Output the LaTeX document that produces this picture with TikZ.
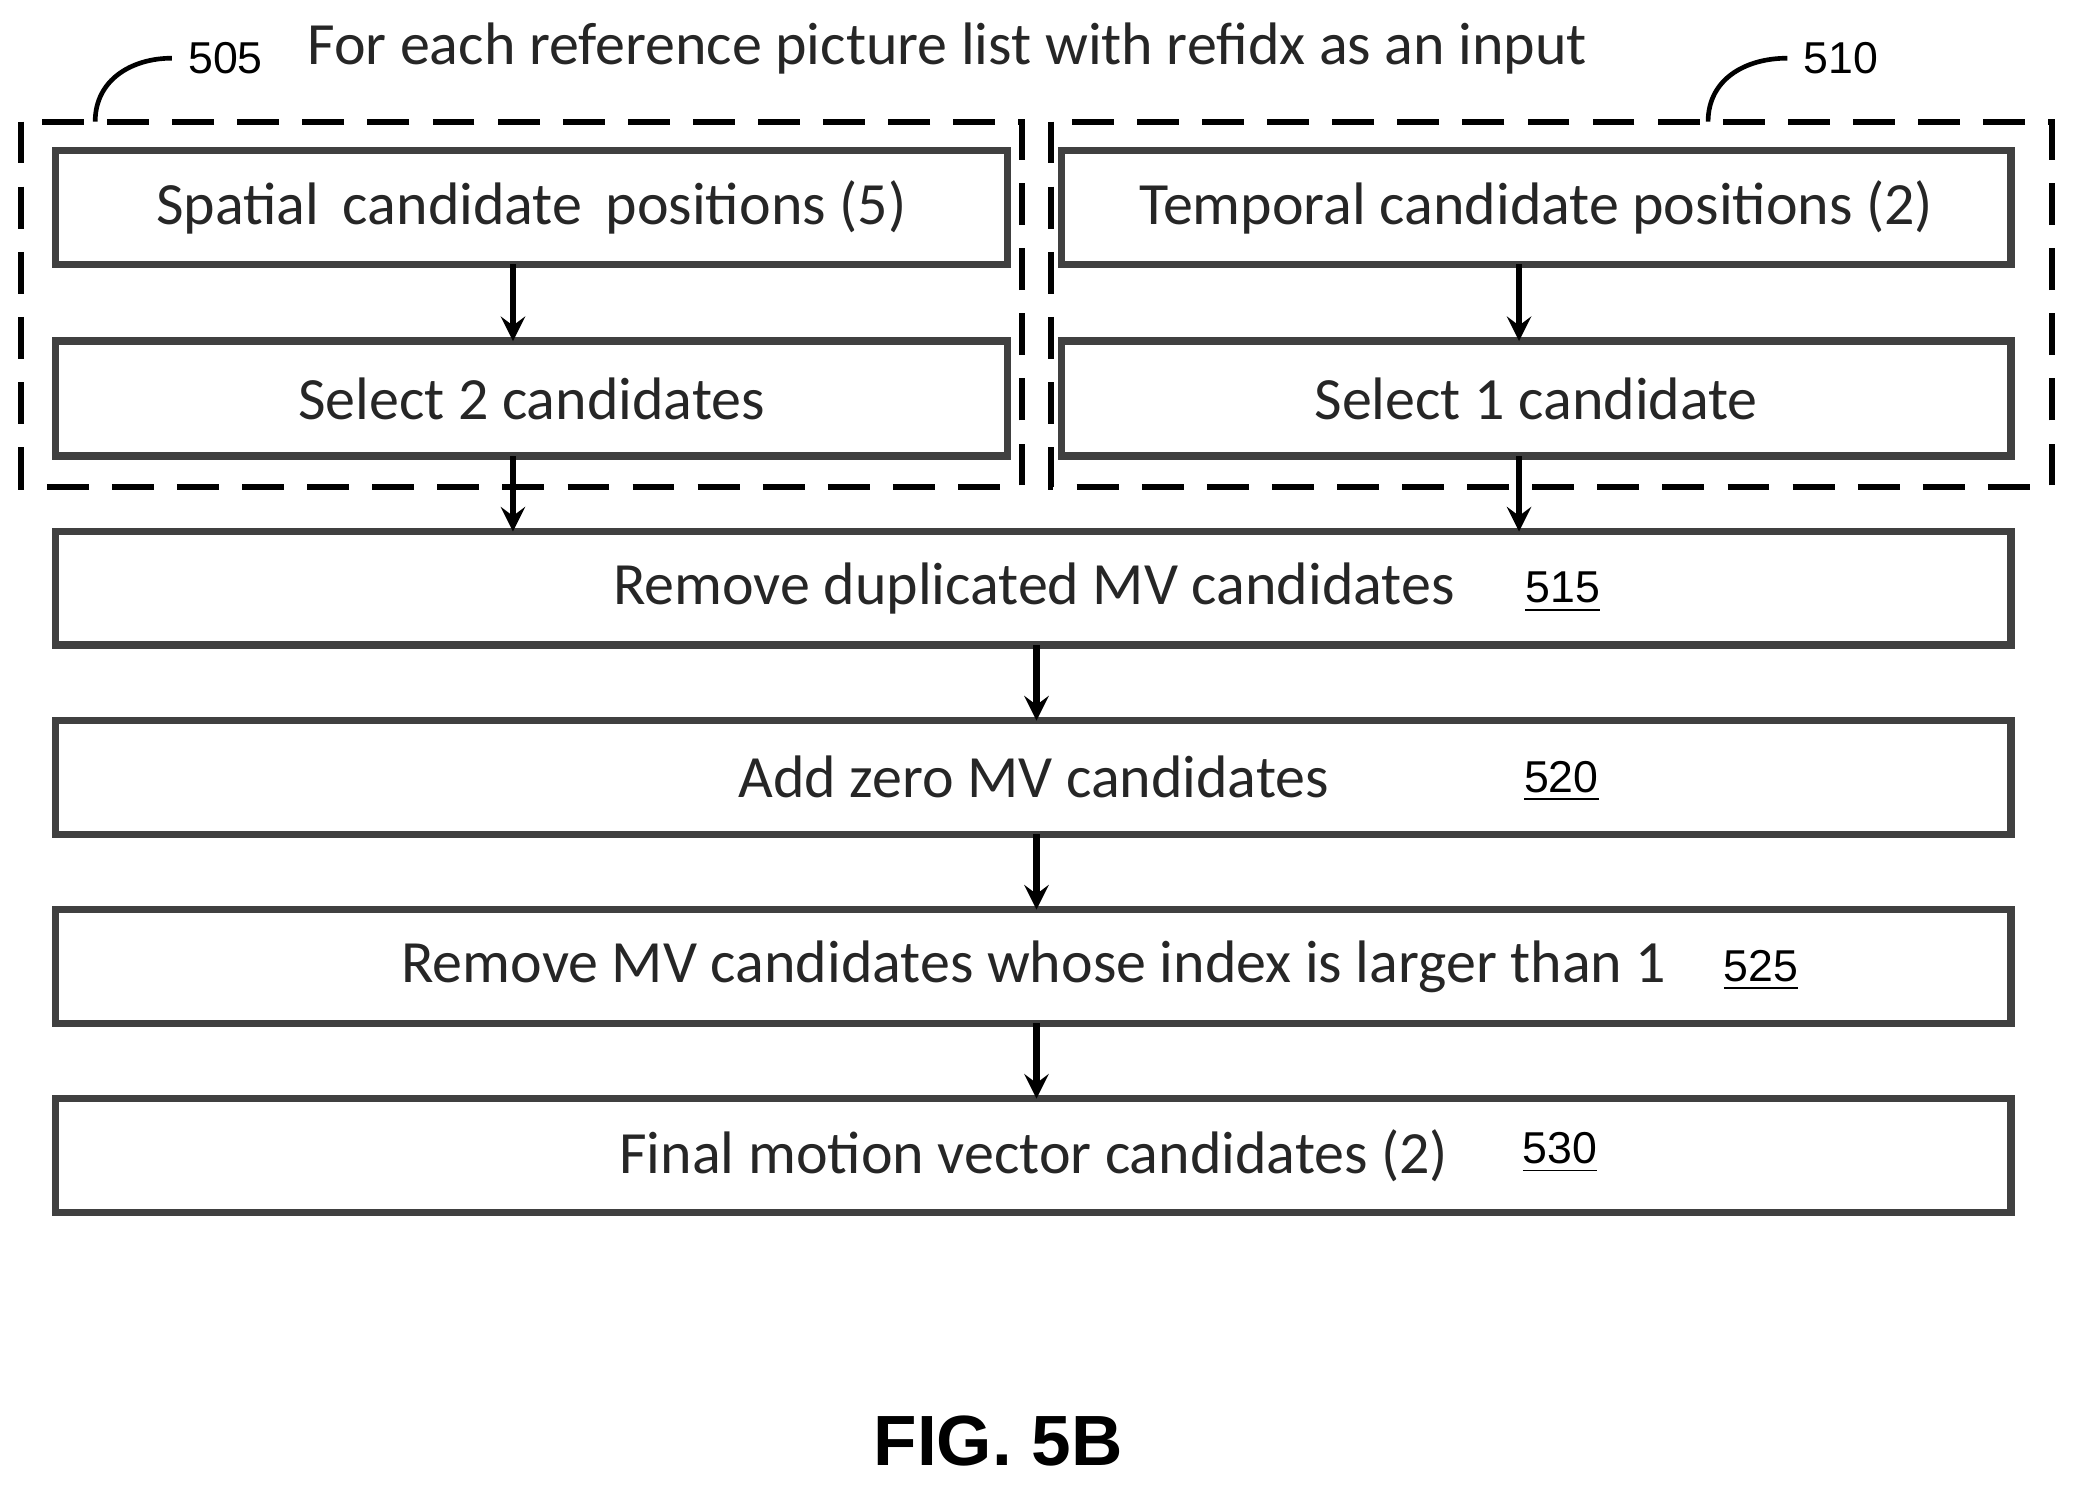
\documentclass[tikz,border=0pt]{standalone}
\usepackage{fontspec}
\setmainfont{Carlito}
\newfontfamily\arl{Liberation Sans}
\begin{document}
\begin{tikzpicture}[x=0.01cm,y=-0.01cm,
 box/.style={draw=black!75,line width=1.6pt,inner sep=0pt},
 dbox/.style={draw=black,line width=1.3pt,dash pattern=on 9pt off 5pt},
 arr/.style={->,>=stealth,line width=1.3pt},
 txt/.style={font=\fontsize{12.9}{15}\selectfont,text=black!85},
 num/.style={font=\arl\fontsize{9.6}{12}\selectfont}]
\useasboundingbox (0,0) rectangle (1568,1123);
\draw[dbox] (16,92) rectangle (773,368);
\draw[dbox] (795,92) rectangle (1552,368);
\node[txt,anchor=west] (title) at (220,37) {For each reference picture list with refidx as an input};
\node[num,anchor=west] (l505) at (130,44) {505};
\node[num,anchor=west] (l510) at (1352,44) {510};
\coordinate (c505) at (72,92);
\coordinate (c510) at (1292,92);
\draw[line width=1pt] (c505) .. controls (72,60) and (100,44) .. (l505.west);
\draw[line width=1pt] (c510) .. controls (1292,60) and (1320,44) .. (l510.west);
\draw[box] (42,114) rectangle (762,200) node[midway,txt] (sp) {Spatial\, candidate\, positions (5)};
\draw[box] (42,258) rectangle (762,345) node[midway,txt] (s2) {Select 2 candidates};
\draw[box] (803,114) rectangle (1521,200) node[midway,txt] (tp) {Temporal candidate positions (2)};
\draw[box] (803,258) rectangle (1521,345) node[midway,txt] (s1) {Select 1 candidate};
\draw[box] (42,402) rectangle (1521,488);
\draw[box] (42,545) rectangle (1521,631);
\draw[box] (42,688) rectangle (1521,774);
\draw[box] (42,831) rectangle (1521,917);
\node[txt] (b515) at (782,445) {Remove duplicated MV candidates};
\node[num] (n515) at (1182,448) {\underline{515}};
\node[txt] (b520) at (782,588) {Add zero MV candidates};
\node[num] (n520) at (1181,591) {\underline{520}};
\node[txt] (b525) at (782,731) {Remove MV candidates whose index is larger than 1};
\node[num] (n525) at (1332,734) {\underline{525}};
\node[txt] (b530) at (782,874) {Final motion vector candidates (2)};
\node[num] (n530) at (1180,872) {\underline{530}};
\coordinate (a1) at (388,200); \coordinate (a2) at (388,258);
\coordinate (a3) at (388,345); \coordinate (a4) at (388,402);
\coordinate (b1) at (1149,200); \coordinate (b2) at (1149,258);
\coordinate (b3) at (1149,345); \coordinate (b4) at (1149,402);
\draw[arr] (a1)--(a2); \draw[arr] (a3)--(a4);
\draw[arr] (b1)--(b2); \draw[arr] (b3)--(b4);
\foreach \y in {488,631,774} \draw[arr] (784,\y)--(784,\y+57);
\node[font=\arl\bfseries\fontsize{15.3}{18}\selectfont] (fig) at (755,1090) {FIG. 5B};
\end{tikzpicture}
\end{document}
